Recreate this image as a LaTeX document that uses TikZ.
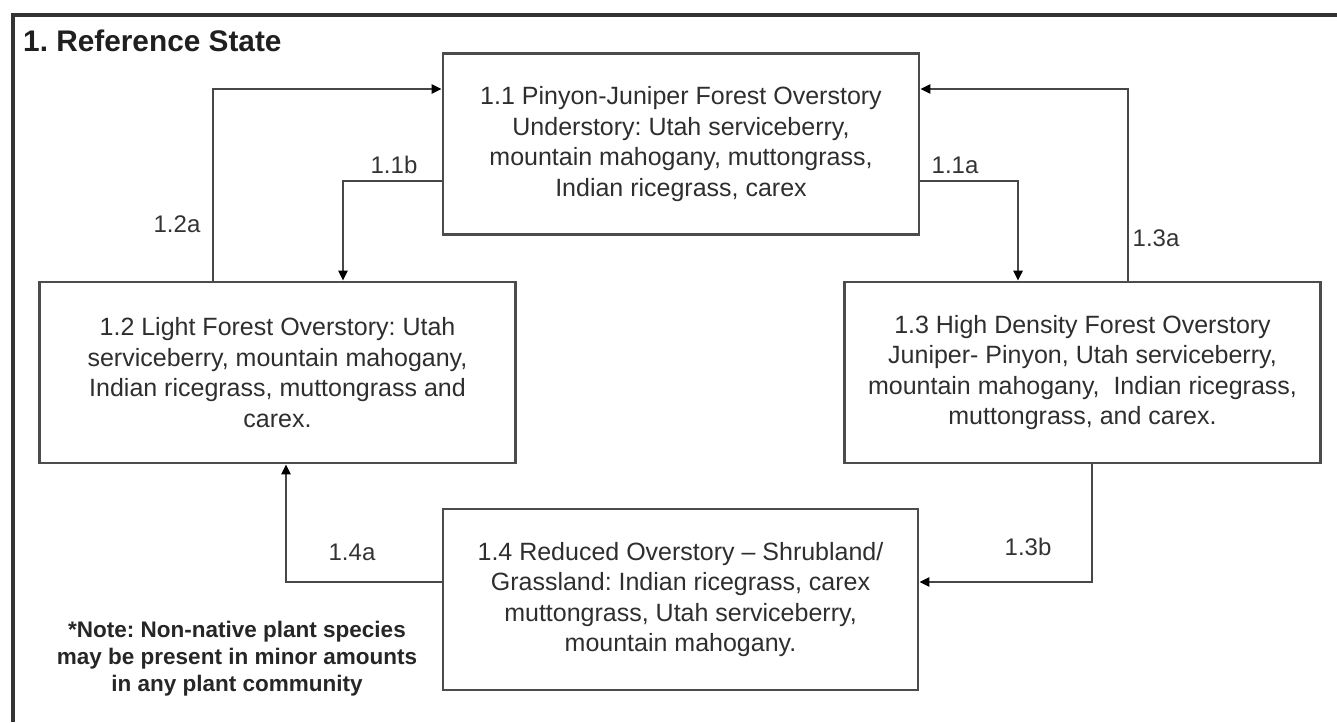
\documentclass[tikz,border=0pt]{standalone}
\usepackage{fontspec}
\setmainfont{Liberation Sans}
\usetikzlibrary{arrows.meta}
\frenchspacing
\tikzset{
  statebox/.style={draw=black!70, line width=2.6pt, minimum width=476pt, minimum height=181pt,
    align=center, inner sep=0pt, text=black!82, font=\frenchspacing\fontsize{25}{30.5}\selectfont},
  conn/.style={draw=black!72, line width=2.4pt, -{Triangle[length=10pt,width=9pt,color=black]}},
  lbl/.style={text=black!80, font=\fontsize{24}{28}\selectfont, inner sep=0pt},
}
\begin{document}
\begin{tikzpicture}[x=1pt,y=-1pt]
\useasboundingbox (0,0) rectangle (1337,722);
% outer frame (cut at right and bottom)
\draw[black!80, line width=3.6pt] (13,722) -- (13,15) -- (1337,15);
\node[anchor=base west, inner sep=0pt, text=black!88, font=\fontsize{29.8}{34}\selectfont\bfseries] (title) at (23,52) {1. Reference State};

\node[statebox] (b11) at (681,144) {1.1 Pinyon-Juniper Forest Overstory\\Understory: Utah serviceberry,\\mountain mahogany, muttongrass,\\Indian ricegrass, carex};
\node[statebox] (b12) at (277.5,372.5) {1.2 Light Forest Overstory: Utah\\serviceberry, mountain mahogany,\\Indian ricegrass, muttongrass and\\carex.};
\node[statebox] (b13) at (1082.5,372.5) {1.3 High Density Forest Overstory\\Juniper- Pinyon, Utah serviceberry,\\mountain mahogany,\ \ Indian ricegrass,\\muttongrass, and carex.};
\node[statebox, minimum width=475pt] (b14) at (680.5,599.5) {1.4 Reduced Overstory -- Shrubland/\\Grassland: Indian ricegrass, carex\\muttongrass, Utah serviceberry,\\mountain mahogany.};

\coordinate (k1) at (213,89);
\coordinate (k2) at (343,181);
\coordinate (k3) at (1018,181);
\coordinate (k4) at (1128,89);
\coordinate (k5) at (1092,582);
\coordinate (k6) at (286,582);

\draw[conn] (k1 |- b12.north) -- (k1) -- (k1 -| b11.west);
\draw[conn] (k2 -| b11.west) -- (k2) -- (k2 |- b12.north);
\draw[conn] (k3 -| b11.east) -- (k3) -- (k3 |- b13.north);
\draw[conn] (k4 |- b13.north) -- (k4) -- (k4 -| b11.east);
\draw[conn] (k5 |- b13.south) -- (k5) -- (k5 -| b14.east);
\draw[conn] (k6 -| b14.west) -- (k6) -- (k6 |- b12.south);

\node[lbl] (l12a) at (177,224) {1.2a};
\node[lbl] (l11b) at (394,165) {1.1b};
\node[lbl] (l11a) at (955,165) {1.1a};
\node[lbl] (l13a) at (1156,238) {1.3a};
\node[lbl] (l13b) at (1028,547) {1.3b};
\node[lbl] (l14a) at (352,552) {1.4a};

\node[align=center, inner sep=0pt, text=black!85, font=\fontsize{22.5}{27}\selectfont\bfseries] (note) at (237,659) {*Note: Non-native plant species\\may be present in minor amounts\\in any plant community};
\end{tikzpicture}
\end{document}
